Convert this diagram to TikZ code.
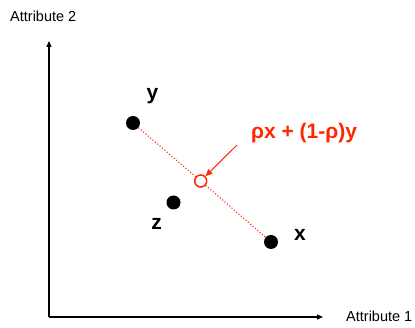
\documentclass[tikz,border=0pt]{standalone}
\usepackage{fontspec}
\setmainfont{Liberation Sans}
\usetikzlibrary{arrows.meta}
\definecolor{myred}{RGB}{255,38,0}
\tikzset{
  dot/.style={circle,fill=black,inner sep=0pt,minimum size=14pt},
  lbl/.style={font=\fontsize{21}{24}\selectfont\bfseries,inner sep=0pt},
  axlbl/.style={font=\fontsize{14.5}{17}\selectfont,inner sep=0pt},
  axis/.style={line width=1.1pt,-{Triangle[length=6pt,width=5pt]}},
  link/.style={myred,line width=1.1pt,dotted},
}
\begin{document}
\begin{tikzpicture}[x=1pt,y=-1pt]
\useasboundingbox (0,0) rectangle (415,328);
\coordinate (o) at (49,317);
\coordinate (ytip) at (49,41);
\coordinate (xtip) at (323,317);
\draw[axis] (o) -- (ytip);
\draw[axis] (o) -- (xtip);
\node[axlbl,anchor=west] (a2) at (10,16) {Attribute 2};
\node[axlbl,anchor=west] (a1) at (346,316) {Attribute 1};
\node[dot] (py) at (133,123) {};
\node[dot] (pz) at (173.5,202.5) {};
\node[dot] (px) at (271,242) {};
\node[circle,draw=myred,line width=1.5pt,fill=white,inner sep=0pt,minimum size=12pt] (pc) at (200.7,181) {};
\draw[link] (py) -- (pc);
\draw[link] (pc) -- (px);
\node[lbl] (ly) at (152.5,96) {y};
\node[lbl] (lz) at (156.5,224) {z};
\node[lbl] (lx) at (300,235) {x};
\node[lbl,text=myred] (lr) at (304,133) {ρx + (1-ρ)y};
\coordinate (as) at (237,145);
\draw[myred,line width=1pt,-{Triangle[length=7pt,width=6pt]}] (as) -- (pc);
\end{tikzpicture}
\end{document}
